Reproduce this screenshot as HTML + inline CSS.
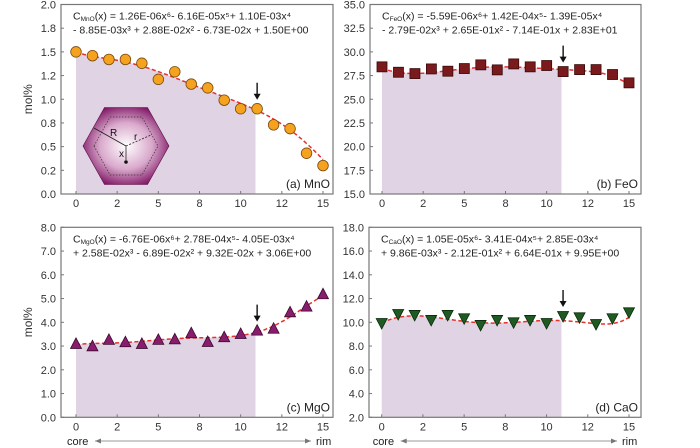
<!DOCTYPE html>
<html><head><meta charset="utf-8"><style>
body{margin:0;background:#fff;}
svg{display:block;font-family:"Liberation Sans",sans-serif;}
</style></head><body>
<svg id="chart" width="700" height="448" viewBox="0 0 700 448">
<defs>
<radialGradient id="hexg" cx="50%" cy="50%" r="55%">
<stop offset="0" stop-color="#ffffff"/><stop offset="0.55" stop-color="#d9a9cc"/><stop offset="1" stop-color="#7e1463"/>
</radialGradient>
</defs>
</svg>
<script>
const positions = [0,1,2,3,4,5,6,7,8,9,10,11,12,13,14,15];
const mnoValues = [1.50,1.46,1.42,1.42,1.38,1.21,1.29,1.16,1.12,0.99,0.90,0.90,0.73,0.69,0.43,0.30];
const feoValues = [28.42,27.85,27.71,28.20,27.96,28.24,28.63,28.10,28.73,28.42,28.56,27.92,28.13,28.13,27.61,26.73];
const mgoValues = [3.09,2.99,3.26,3.16,3.09,3.26,3.28,3.54,3.17,3.37,3.51,3.65,3.73,4.42,4.66,5.18];
const caoValues = [9.94,10.70,10.62,10.20,10.62,10.34,9.78,10.20,10.00,10.20,9.94,10.53,10.42,9.86,10.34,10.84];
const mnoCoef = [1.26e-6,-6.16e-5,1.10e-3,-8.85e-3,2.88e-2,-6.73e-2,1.50];
const feoCoef = [-5.59e-6,1.42e-4,-1.39e-5,-2.79e-2,2.65e-1,-7.14e-1,28.3];
const mgoCoef = [-6.76e-6,2.78e-4,-4.05e-3,2.58e-2,-6.89e-2,9.32e-2,3.06];
const caoCoef = [1.05e-5,-3.41e-4,2.85e-3,9.86e-3,-2.12e-1,6.64e-1,9.95];
const xTickValues = [0,2.5,5,7.5,10,12.5,15];
const xTickLabels = ["0","2","5","8","10","12","15"];
const mnoTicks = [0,0.25,0.5,0.75,1,1.25,1.5,1.75,2];
const mnoTickLabels = ["0.0","0.2","0.5","0.8","1.0","1.2","1.5","1.8","2.0"];
const feoTicks = [15,17.5,20,22.5,25,27.5,30,32.5,35];
const feoTickLabels = ["15.0","17.5","20.0","22.5","25.0","27.5","30.0","32.5","35.0"];
const mgoTicks = [0,1,2,3,4,5,6,7,8];
const mgoTickLabels = ["0.0","1.0","2.0","3.0","4.0","5.0","6.0","7.0","8.0"];
const caoTicks = [2,4,6,8,10,12,14,16,18];
const caoTickLabels = ["2.0","4.0","6.0","8.0","10.0","12.0","14.0","16.0","18.0"];
const shadeEnd = 10.9;
const arrowAt = 11;

const NS="http://www.w3.org/2000/svg";
const svg=document.getElementById('chart');
function mk(tag,attrs,parent,text){const e=document.createElementNS(NS,tag);for(const k in attrs)e.setAttribute(k,attrs[k]);if(text!==undefined)e.textContent=text;(parent||svg).appendChild(e);return e;}
function poly(c,x){let v=0;for(let i=0;i<c.length;i++)v=v*x+c[i];return v;}

const panels=[
 {id:'mno',label:'(a) MnO',vals:mnoValues,coef:mnoCoef,ticks:mnoTicks,tl:mnoTickLabels,bx:61,bw:272,by:4.5,bh:189.5,x0:76,x1:323,marker:'circle',fill:'#f5a21e',stroke:'#7a4a10',sub:'MnO',
  eq1:'(x) = 1.26E-06x⁶- 6.16E-05x⁵+ 1.10E-03x⁴',eq2:'- 8.85E-03x³ + 2.88E-02x² - 6.73E-02x + 1.50E+00',ylab:true,core:false},
 {id:'feo',label:'(b) FeO',vals:feoValues,coef:feoCoef,ticks:feoTicks,tl:feoTickLabels,bx:370,bw:271,by:4.5,bh:189.5,x0:382,x1:629,marker:'square',fill:'#7a1a1c',stroke:'#3a0a0a',sub:'FeO',
  eq1:'(x) = -5.59E-06x⁶+ 1.42E-04x⁵- 1.39E-05x⁴',eq2:'- 2.79E-02x³ + 2.65E-01x² - 7.14E-01x + 2.83E+01',ylab:false,core:false},
 {id:'mgo',label:'(c) MgO',vals:mgoValues,coef:mgoCoef,ticks:mgoTicks,tl:mgoTickLabels,bx:61,bw:272,by:227.3,bh:190,x0:76,x1:323,marker:'tri',fill:'#8a1c6e',stroke:'#3a0a30',sub:'MgO',
  eq1:'(x) = -6.76E-06x⁶+ 2.78E-04x⁵- 4.05E-03x⁴',eq2:'+ 2.58E-02x³ - 6.89E-02x² + 9.32E-02x + 3.06E+00',ylab:true,core:true},
 {id:'cao',label:'(d) CaO',vals:caoValues,coef:caoCoef,ticks:caoTicks,tl:caoTickLabels,bx:369,bw:272,by:227.3,bh:190,x0:381.7,x1:629,marker:'dtri',fill:'#1f5a22',stroke:'#0a2a0c',sub:'CaO',
  eq1:'(x) = 1.05E-05x⁶- 3.41E-04x⁵+ 2.85E-03x⁴',eq2:'+ 9.86E-03x³ - 2.12E-01x² + 6.64E-01x + 9.95E+00',ylab:false,core:true}
];

panels.forEach(p=>{
 const g=mk('g',{});
 
 
 const ymin=p.ticks[0],ymax=p.ticks[p.ticks.length-1];
 const sx=v=>p.x0+(v-0)/15*(p.x1-p.x0);
 const sy=v=>p.by+p.bh-(v-ymin)/(ymax-ymin)*p.bh;
 const bottom=p.by+p.bh;
 // shading
 const sh=mk('rect',{x:sx(0),y:sy(poly(p.coef,0))<sy(p.vals[0])?sy(p.vals[0]):sy(p.vals[0]),width:0,height:0,fill:'#e0d3e3'},g);
 let d='M'+sx(0)+','+bottom;
 for(let i=0;i<=60;i++){const x=shadeEnd*i/60;d+=' L'+sx(x).toFixed(1)+','+sy(poly(p.coef,x)).toFixed(1);}
 d+=' L'+sx(shadeEnd)+','+bottom+' Z';
 sh.remove();
 const area=mk('path',{d:d,fill:'#e0d3e3'},g);
 
 
 // box
 const box=mk('rect',{x:p.bx,y:p.by,width:p.bw,height:p.bh,fill:'none',stroke:'#777','stroke-width':1.2},g);
 
 
 // y ticks
 p.ticks.forEach((t,i)=>{
  const y=sy(t);
  mk('line',{x1:p.bx,x2:p.bx+3,y1:y,y2:y,stroke:'#777'},g);
  const tl=mk('text',{x:p.bx-5,y:y+4,'text-anchor':'end','font-size':11,fill:'#333'},g,p.tl[i]);
  
  
 });
 xTickValues.forEach((t,i)=>{
  const x=sx(t);
  mk('line',{x1:x,x2:x,y1:bottom,y2:bottom-3,stroke:'#777'},g);
  const tl=mk('text',{x:x,y:bottom+13,'text-anchor':'middle','font-size':11,fill:'#333'},g,xTickLabels[i]);
  
  
 });
 if(p.ylab){
  const yl=mk('text',{x:0,y:0,transform:'translate(32,'+(p.by+p.bh/2)+') rotate(-90)','text-anchor':'middle','font-size':12,fill:'#333'},g,'mol%');
  
  
 }
 // fit curve
 let c='';
 for(let i=0;i<=150;i++){const x=15*i/150;c+=(i?' L':'M')+sx(x).toFixed(1)+','+sy(poly(p.coef,x)).toFixed(1);}
 const fit=mk('path',{d:c,fill:'none',stroke:'#e8302c','stroke-width':1.5,'stroke-dasharray':'4,2.5'},g);
 
 
 // markers
 p.vals.forEach((v,i)=>{
  const x=sx(positions[i]),y=sy(v);let m;
  if(p.marker==='circle')m=mk('circle',{cx:x,cy:y,r:5.3,fill:p.fill,stroke:p.stroke,'stroke-width':0.8},g);
  else if(p.marker==='square')m=mk('rect',{x:x-5,y:y-5,width:10,height:10,fill:p.fill,stroke:p.stroke,'stroke-width':0.8},g);
  else if(p.marker==='tri')m=mk('polygon',{points:(x-5.5)+','+(y+4.5)+' '+(x+5.5)+','+(y+4.5)+' '+x+','+(y-6),fill:p.fill,stroke:p.stroke,'stroke-width':0.8},g);
  else m=mk('polygon',{points:(x-5.5)+','+(y-4.5)+' '+(x+5.5)+','+(y-4.5)+' '+x+','+(y+6),fill:p.fill,stroke:p.stroke,'stroke-width':0.8},g);
  
  
 });
 // arrow
 const ax=sx(arrowAt),ay=sy(p.vals[arrowAt])-9;
 const arr=mk('g',{},g);
 
 
 mk('line',{x1:ax,x2:ax,y1:ay-17,y2:ay-4,stroke:'#111','stroke-width':1.4},arr);
 mk('polygon',{points:(ax-3.5)+','+(ay-6)+' '+(ax+3.5)+','+(ay-6)+' '+ax+','+ay,fill:'#111'},arr);
 // equation
 const ex=p.bx+12;
 const e1=mk('text',{x:ex,y:p.by+15,'font-size':10.5,fill:'#222'},g);
 
 
 mk('tspan',{},e1,'C');
 mk('tspan',{'font-size':6.5,dy:1.5},e1,p.sub);
 mk('tspan',{dy:-1.5},e1,p.eq1);
 mk('text',{x:ex,y:p.by+29,'font-size':10.5,fill:'#222'},g,p.eq2);
 const pl=mk('text',{x:p.bx+p.bw-3,y:bottom-6,'text-anchor':'end','font-size':12,fill:'#222'},g,p.label);
 
 
 if(p.core){
  const cg=mk('g',{},g);
  
  
  mk('text',{x:p.x0-9,y:445,'font-size':11,fill:'#222'},cg,'core');
  mk('text',{x:p.x1-7,y:445,'font-size':11,fill:'#222'},cg,'rim');
  const a1=p.x0+19,a2=p.x1-12;
  mk('line',{x1:a1,x2:a2,y1:441,y2:441,stroke:'#777','stroke-width':0.8},cg);
  mk('polygon',{points:a1+',441 '+(a1+6)+',438.5 '+(a1+6)+',443.5',fill:'#777'},cg);
  mk('polygon',{points:a2+',441 '+(a2-6)+',438.5 '+(a2-6)+',443.5',fill:'#777'},cg);
 }
});

// hexagon inset
const hg=mk('g',{});


const cx=126,cy=146;
function hex(rx,ry){return [[cx-rx,cy],[cx-rx/2,cy-ry],[cx+rx/2,cy-ry],[cx+rx,cy],[cx+rx/2,cy+ry],[cx-rx/2,cy+ry]].map(p=>p.join(',')).join(' ');}
mk('polygon',{points:hex(43,38.5),fill:'url(#hexg)',stroke:'#5a0c44','stroke-width':0.6},hg);
mk('polygon',{points:hex(32,29),fill:'none',stroke:'#333','stroke-width':0.7,'stroke-dasharray':'1.5,1.5'},hg);
mk('line',{x1:cx,y1:cy,x2:94,y2:128,stroke:'#222','stroke-width':0.9},hg);
mk('line',{x1:cx,y1:cy,x2:151,y2:135,stroke:'#222','stroke-width':0.8,'stroke-dasharray':'2,1.5'},hg);
mk('line',{x1:cx,y1:cy,x2:cx,y2:160,stroke:'#222','stroke-width':0.8},hg);
mk('circle',{cx:cx,cy:162,r:1.8,fill:'#111'},hg);
mk('text',{x:110,y:136,'font-size':10,fill:'#111'},hg,'R');
mk('text',{x:134,y:140,'font-size':10,fill:'#111'},hg,'r');
mk('text',{x:119,y:157,'font-size':10,fill:'#111'},hg,'x');
</script>
</body></html>
